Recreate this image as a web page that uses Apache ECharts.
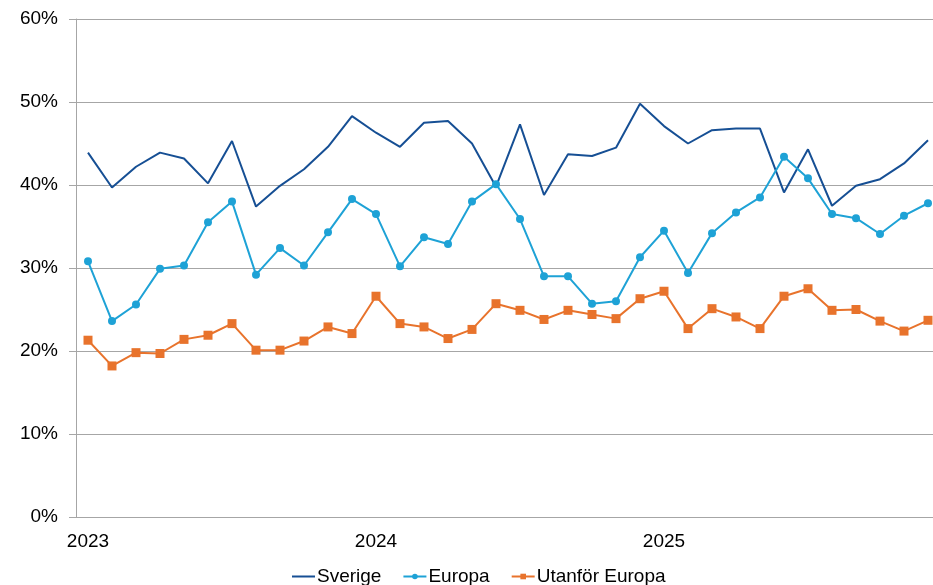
<!DOCTYPE html>
<html>
<head>
<meta charset="utf-8">
<script src="https://cdn.jsdelivr.net/npm/echarts@6/dist/echarts.min.js"></script>
<style>
  html, body { margin: 0; padding: 0; background: #fff; overflow: hidden; }
  /* plot area runs a few px past the right edge, as in the original */
  #chart { width: 942px; height: 585px; }
</style>
</head>
<body>
<div id="chart"></div>
<script>
// one category per month, Jan 2023 .. Dec 2025
const years = ['2023', '2024', '2025']
const months = []
years.forEach(y => { for (let m = 1; m <= 12; m++) months.push(y + '-' + (m < 10 ? '0' + m : m)) })

const sverige = [43.9, 39.7, 42.2, 43.9, 43.2, 40.2, 45.3, 37.4, 39.9, 41.9, 44.6, 48.3,
  46.3, 44.6, 47.5, 47.7, 45.0, 39.8, 47.3, 38.8, 43.7, 43.5, 44.5, 49.8,
  47.1, 45.0, 46.6, 46.8, 46.8, 39.1, 44.3, 37.5, 39.9, 40.7, 42.6, 45.4]
const europa = [30.8, 23.6, 25.6, 29.9, 30.3, 35.5, 38.0, 29.2, 32.4, 30.3, 34.3, 38.3,
  36.5, 30.2, 33.7, 32.9, 38.0, 40.1, 35.9, 29.0, 29.0, 25.7, 26.0, 31.3,
  34.5, 29.4, 34.2, 36.7, 38.5, 43.4, 40.8, 36.5, 36.0, 34.1, 36.3, 37.8]
const utanfor = [21.3, 18.2, 19.8, 19.7, 21.4, 21.9, 23.3, 20.1, 20.1, 21.2, 22.9, 22.1,
  26.6, 23.3, 22.9, 21.5, 22.6, 25.7, 24.9, 23.8, 24.9, 24.4, 23.9, 26.3,
  27.2, 22.7, 25.1, 24.1, 22.7, 26.6, 27.5, 24.9, 25.0, 23.6, 22.4, 23.7]

const chart = echarts.init(document.getElementById('chart'))
const font = 'Liberation Sans, Arial, sans-serif'

chart.setOption({
  animation: false,
  textStyle: { fontFamily: font },
  grid: { left: 76, top: 19, width: 864, height: 498 },
  legend: {
    top: 562,
    left: 286,
    itemWidth: 23,
    itemHeight: 7,
    itemGap: 21,
    textStyle: { fontSize: 19, color: '#000', fontFamily: font, padding: [0, 0, 0, -3] },
    data: [
      // plain line, no marker, for Sverige
      { name: 'Sverige', itemStyle: { opacity: 0 } },
      'Europa',
      'Utanför Europa'
    ]
  },
  xAxis: {
    type: 'category',
    data: months,
    boundaryGap: true,
    axisLine: { lineStyle: { color: '#a6a6a6', width: 1 } },
    axisTick: { interval: 2, length: 6, lineStyle: { color: '#a6a6a6' } },
    axisLabel: {
      interval: 11,
      fontSize: 19,
      color: '#000',
      margin: 15,
      formatter: v => v.slice(0, 4)
    }
  },
  yAxis: {
    type: 'value',
    min: 0,
    max: 60,
    interval: 10,
    axisLine: { show: true, lineStyle: { color: '#a6a6a6' } },
    axisTick: { show: true, length: 7, lineStyle: { color: '#a6a6a6' } },
    splitLine: { lineStyle: { color: '#a6a6a6', width: 1 } },
    axisLabel: { fontSize: 19, color: '#000', margin: 18, formatter: '{value}%' }
  },
  series: [
    {
      name: 'Sverige',
      type: 'line',
      data: sverige,
      symbol: 'none',
      color: '#164f94',
      lineStyle: { width: 2 }
    },
    {
      name: 'Europa',
      type: 'line',
      data: europa,
      symbol: 'circle',
      symbolSize: 8,
      color: '#1ea2d6',
      lineStyle: { width: 2 }
    },
    {
      name: 'Utanför Europa',
      type: 'line',
      data: utanfor,
      symbol: 'rect',
      symbolSize: 9,
      color: '#e8732c',
      lineStyle: { width: 2 }
    }
  ]
})
</script>
</body>
</html>
